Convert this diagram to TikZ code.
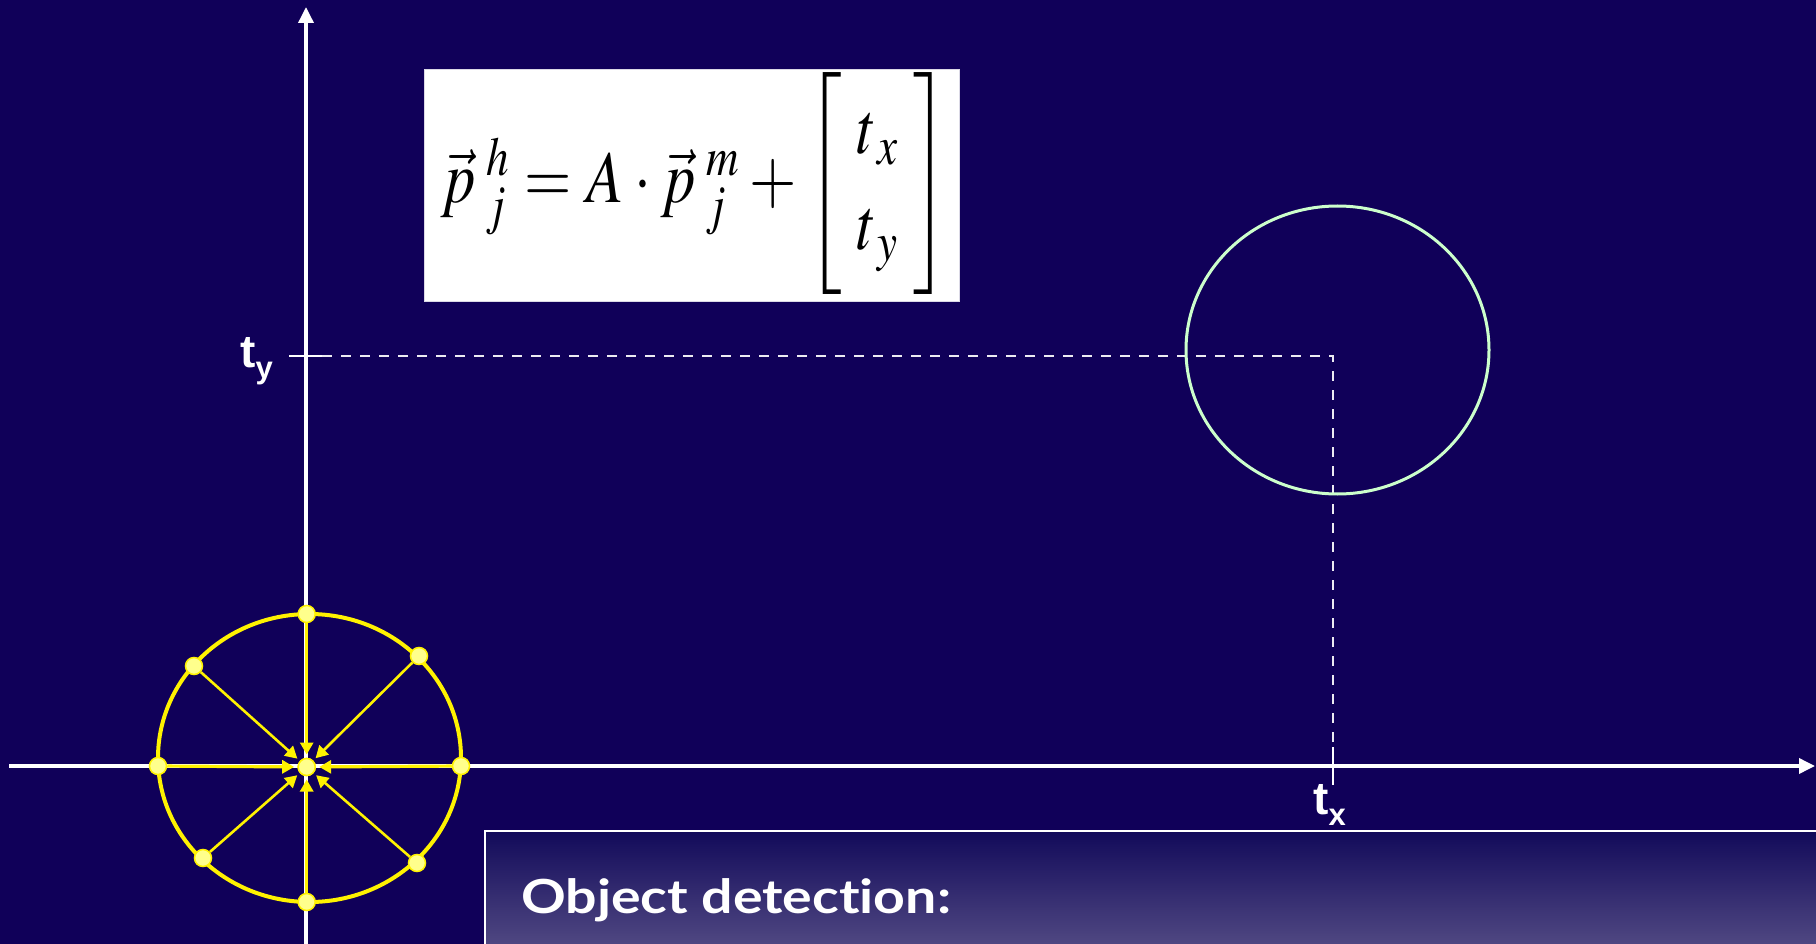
\documentclass[tikz,border=0pt]{standalone}
\usepackage{amsmath}
\usepackage{mathptmx}
\usepackage{fontspec}
\newfontfamily\labelfont{Liberation Sans}
\newfontfamily\titlefont{Lato}[Ligatures={NoCommon}]
\usetikzlibrary{arrows.meta}
\definecolor{bg}{RGB}{16,0,89}
\definecolor{ring}{RGB}{204,255,204}
\definecolor{dotfill}{RGB}{255,255,140}
\definecolor{boxtop}{RGB}{18,10,90}
\definecolor{boxbot}{RGB}{80,72,130}
\begin{document}
\begin{tikzpicture}[x=1pt,y=-1pt,
  axisline/.style={white, line width=3.5pt, -{Triangle[length=16pt,width=15pt]}},
  dashline/.style={white!92!bg, line width=2pt, dash pattern=on 10pt off 9pt},
  tickline/.style={white, line width=2.5pt},
  yarrow/.style={yellow, line width=2.6pt, -{Triangle[length=12pt,width=13pt]}},
  ydot/.style={circle, fill=dotfill, draw=yellow, line width=1.5pt, minimum size=17pt, inner sep=0pt},
  cdot/.style={ydot, outer sep=4pt},
  axlabel/.style={text=white, inner sep=0pt, anchor=base west, font=\labelfont\bfseries}
]
\fill[bg] (0,0) rectangle (1816,944);
\useasboundingbox (0,0) rectangle (1816,944);

% named points
\coordinate (xs) at (9,766);
\coordinate (xe) at (1815,766);
\coordinate (ys) at (306,944);
\coordinate (ye) at (306,7);
\coordinate (ty1) at (289,356);
\coordinate (ty2) at (322,356);
\coordinate (tx1) at (1333,747);
\coordinate (tx2) at (1333,785);
\coordinate (corner) at (1333,356);
\coordinate (txaxis) at (1333,766);

% dashed guides
\draw[dashline] (ty2) -- (corner) -- (txaxis);

% axes
\draw[axisline] (xs) -- (xe);
\draw[axisline] (ys) -- (ye);
\draw[tickline] (ty1) -- (ty2);
\draw[tickline] (tx1) -- (tx2);

% target circle
\draw[ring, line width=3pt] (1337.5,350) ellipse [x radius=151.5, y radius=144];

% yellow model
\draw[yellow, line width=4pt] (309.5,758) ellipse [x radius=151.5, y radius=144];
\node[cdot] (c) at (306.7,767) {};
\node[ydot] (t) at (306.7,614) {};
\node[ydot] (ur) at (419,656) {};
\node[ydot] (r) at (461,766) {};
\node[ydot] (lr) at (417,863) {};
\node[ydot] (b) at (306.7,902) {};
\node[ydot] (ll) at (203,858) {};
\node[ydot] (l) at (158,766) {};
\node[ydot] (ul) at (194,666) {};
\foreach \n in {t,r,b,l} \draw[yarrow, line width=3.2pt] (\n) -- (c);
\foreach \n in {ur,lr,ll,ul} \draw[yarrow] (\n) -- (c);
\node[ydot] at (c) {};

% formula
\node[fill=white, draw=white!85!bg, line width=1pt, minimum width=535pt, minimum height=231.5pt, anchor=north west, inner sep=0pt] (fbox) at (424,69.5) {};
\node[inner sep=0pt] (formula) at ([xshift=3pt,yshift=2pt]fbox.center) {\fontsize{74}{88}\selectfont
 \thickmuskip=4.5mu \medmuskip=3mu
 \resizebox{508pt}{\height}{$\vec{p}\mkern3mu{}^{h}_{j} = A\cdot\vec{p}\mkern3mu{}^{m}_{j} + \left[\begin{matrix}\;t_{\,x}\;\\[8pt] \;t_{\,y}\;\end{matrix}\right]$}};

% bottom box
\shade[top color=boxtop, bottom color=boxbot] (485,831) rectangle (1830,946);
\draw[white, line width=2pt] (485,950) -- (485,831) -- (1830,831);
\node[text=white, inner sep=0pt, anchor=base west, font=\titlefont\bfseries\fontsize{47}{56}\selectfont] (title) at (521,913) {\scalebox{1.18}[1]{Object detection:}};

% axis labels
\node[axlabel] (tylab) at (240,367) {\fontsize{46}{50}\selectfont t\raisebox{-11pt}{\fontsize{31}{31}\selectfont y}};
\node[axlabel] (txlab) at (1313,814) {\fontsize{46}{50}\selectfont t\raisebox{-11pt}{\fontsize{31}{31}\selectfont x}};
\end{tikzpicture}
\end{document}
